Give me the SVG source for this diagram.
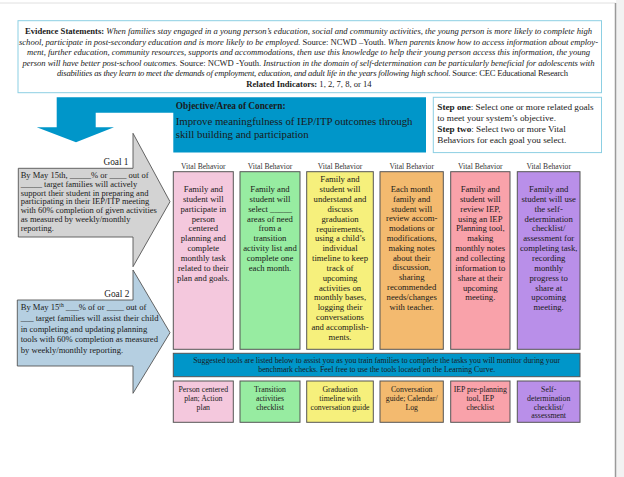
<svg xmlns="http://www.w3.org/2000/svg" width="624" height="477" viewBox="0 0 624 477">
<style>
text{font-family:"Liberation Serif","Times New Roman",serif;fill:#1a1a1a}
.ev{font-size:8.6px;text-anchor:middle}
.it{font-style:italic}
.b{font-weight:bold}
.col{stroke:#555;stroke-width:1}
.ct{font-size:8.7px;text-anchor:middle}
.vh{font-size:7.6px;text-anchor:middle;fill:#333}
.tt{font-size:7.8px;text-anchor:middle}
.gt{font-size:8.5px}
.g2{font-size:8.6px}
.gl{font-size:9.3px;text-anchor:end}
.arr{stroke:#555;stroke-width:0.9}
</style>
<rect x="0" y="0" width="624" height="477" fill="#ffffff"/>
<rect x="616" y="0" width="8" height="477" fill="#f2f2f2"/>
<line x1="0" y1="3" x2="615.5" y2="3" stroke="#e0e0e0" stroke-width="1"/>
<line x1="615.5" y1="3" x2="615.5" y2="477" stroke="#9a9a9a" stroke-width="1.5"/>

<g id="evidence">
<rect x="18" y="20.7" width="583.5" height="72" fill="#fff" stroke="#8ccfe3" stroke-width="1"/>
<text class="ev" y="34" x="308.5" textLength="567"><tspan class="b">Evidence Statements:</tspan><tspan class="it"> When families stay engaged in a young person’s education, social and community activities, the young person is more likely to complete high</tspan></text>
<text class="ev" y="44.6" x="308.5" textLength="579"><tspan class="it">school, participate in  post-secondary education and is more likely to be employed.</tspan> Source: NCWD –Youth. <tspan class="it">When parents know how to access information about employ-</tspan></text>
<text class="ev it" y="55.2" x="308.5" textLength="563">ment, further education, community resources, supports and accommodations, then use this knowledge to help their young person access this information, the young</text>
<text class="ev" y="65.8" x="308.5" textLength="572"><tspan class="it">person will have better post-school outcomes.</tspan> Source: NCWD -Youth. <tspan class="it">Instruction in the domain of self-determination can be particularly beneficial for adolescents with</tspan></text>
<text class="ev" y="76.4" x="312.5" textLength="511"><tspan class="it">disabilities as they learn to meet the demands of employment, education, and adult life in the years following high school.</tspan> Source: CEC Educational Research</text>
<text class="ev" y="87" x="309"><tspan class="b">Related Indicators:</tspan> 1, 2, 7, 8, or 14</text>
</g>

<g id="objective">
<polygon points="56.7,97.3 426,97.3 426,152.5 173.3,152.5 173.3,112.7 95.7,112.7 95.7,127.3 114,127.3 76,142.3 36.7,127.3 56.7,127.3" fill="#0096c9"/>
<text x="175.7" y="109" class="b" font-size="9.3">Objective/Area of Concern:</text>
<text x="175.7" y="124.8" font-size="10.8">Improve meaningfulness of IEP/ITP outcomes through</text>
<text x="175.7" y="138" font-size="10.8">skill building and participation</text>
</g>

<g id="steps">
<rect x="433.3" y="97.3" width="168.2" height="55.3" fill="#fff" stroke="#8ccfe3" stroke-width="1"/>
<text x="437.3" y="110" font-size="9.2"><tspan class="b">Step one</tspan>: Select one or more related goals</text>
<text x="437.3" y="121.1" font-size="9.2">to meet your system’s objective.</text>
<text x="437.3" y="132.2" font-size="9.2"><tspan class="b">Step two</tspan>: Select two or more Vital</text>
<text x="437.3" y="143.3" font-size="9.2">Behaviors for each goal you select.</text>
</g>

<g id="goal1">
<polygon class="arr" points="18.3,168.3 133,168.3 133,133.3 170,201.7 133,266.7 133,237 18.3,237" fill="#d3d3d3"/>
<text class="gl" x="128.5" y="164.9">Goal 1</text>
<text class="gt" x="20.7" y="178">By May 15th, _____% or ____ out of</text>
<text class="gt" x="20.7" y="186.8">_____ target families will actively</text>
<text class="gt" x="20.7" y="195.6">support their student in preparing and</text>
<text class="gt" x="20.7" y="204.4">participating in their IEP/ITP meeting</text>
<text class="gt" x="20.7" y="213.2">with 60% completion of given activities</text>
<text class="gt" x="20.7" y="222">as measured by weekly/monthly</text>
<text class="gt" x="20.7" y="230.8">reporting.</text>
</g>

<g id="goal2">
<polygon class="arr" points="17.3,300 133,300 133,270 170,332.7 133,393.3 133,366 17.3,366" fill="#b5cfe1"/>
<text class="gl" x="129.3" y="296.5">Goal 2</text>
<text class="g2" x="20.7" y="310.4">By May 15<tspan font-size="5.6" dy="-3.2">th</tspan><tspan dy="3.2"> ___% of or ____ out of</tspan></text>
<text class="g2" x="20.7" y="321">___ target families will assist their child</text>
<text class="g2" x="20.7" y="331.6">in completing and updating planning</text>
<text class="g2" x="20.7" y="342.2">tools with 60% completion as measured</text>
<text class="g2" x="20.7" y="352.8">by weekly/monthly reporting.</text>
</g>

<g id="vb1">
<text class="vh" x="203.3" y="169.3">Vital Behavior</text>
<rect class="col" x="173.3" y="171.7" width="60" height="177.6" fill="#f4c8dd"/>
<text class="ct" x="203.3" y="192"><tspan x="203.3">Family and</tspan><tspan x="203.3" dy="9.85">student will</tspan><tspan x="203.3" dy="9.85">participate in</tspan><tspan x="203.3" dy="9.85">person</tspan><tspan x="203.3" dy="9.85">centered</tspan><tspan x="203.3" dy="9.85">planning and</tspan><tspan x="203.3" dy="9.85">complete</tspan><tspan x="203.3" dy="9.85">monthly task</tspan><tspan x="203.3" dy="9.85">related to their</tspan><tspan x="203.3" dy="9.85">plan and goals.</tspan></text>
</g>
<g id="vb2">
<text class="vh" x="270" y="169.3">Vital Behavior</text>
<rect class="col" x="240" y="171.7" width="60" height="177.6" fill="#97eca1"/>
<text class="ct" x="270" y="192"><tspan x="270">Family and</tspan><tspan x="270" dy="9.85">student will</tspan><tspan x="270" dy="9.85">select _____</tspan><tspan x="270" dy="9.85">areas of need</tspan><tspan x="270" dy="9.85">from a</tspan><tspan x="270" dy="9.85">transition</tspan><tspan x="270" dy="9.85">activity list and</tspan><tspan x="270" dy="9.85">complete one</tspan><tspan x="270" dy="9.85">each month.</tspan></text>
</g>
<g id="vb3">
<text class="vh" x="340" y="169.3">Vital Behavior</text>
<rect class="col" x="306.7" y="171.7" width="66.6" height="177.6" fill="#f6f07c"/>
<text class="ct" x="340" y="182.3"><tspan x="340">Family and</tspan><tspan x="340" dy="9.84">student will</tspan><tspan x="340" dy="9.84">understand and</tspan><tspan x="340" dy="9.84">discuss</tspan><tspan x="340" dy="9.84">graduation</tspan><tspan x="340" dy="9.84">requirements,</tspan><tspan x="340" dy="9.84">using a child’s</tspan><tspan x="340" dy="9.84">individual</tspan><tspan x="340" dy="9.84">timeline to keep</tspan><tspan x="340" dy="9.84">track of</tspan><tspan x="340" dy="9.84">upcoming</tspan><tspan x="340" dy="9.84">activities on</tspan><tspan x="340" dy="9.84">monthly bases,</tspan><tspan x="340" dy="9.84">logging their</tspan><tspan x="340" dy="9.84">conversations</tspan><tspan x="340" dy="9.84">and accomplish-</tspan><tspan x="340" dy="9.84">ments.</tspan></text>
</g>
<g id="vb4">
<text class="vh" x="411.7" y="169.3">Vital Behavior</text>
<rect class="col" x="380" y="171.7" width="63.3" height="177.6" fill="#f3ba6f"/>
<text class="ct" x="411.7" y="192"><tspan x="411.7">Each month</tspan><tspan x="411.7" dy="9.8">family and</tspan><tspan x="411.7" dy="9.8">student will</tspan><tspan x="411.7" dy="9.8">review accom-</tspan><tspan x="411.7" dy="9.8">modations or</tspan><tspan x="411.7" dy="9.8">modifications,</tspan><tspan x="411.7" dy="9.8">making notes</tspan><tspan x="411.7" dy="9.8">about their</tspan><tspan x="411.7" dy="9.8">discussion,</tspan><tspan x="411.7" dy="9.8">sharing</tspan><tspan x="411.7" dy="9.8">recommended</tspan><tspan x="411.7" dy="9.8">needs/changes</tspan><tspan x="411.7" dy="9.8">with teacher.</tspan></text>
</g>
<g id="vb5">
<text class="vh" x="480.3" y="169.3">Vital Behavior</text>
<rect class="col" x="450.7" y="171.7" width="59.3" height="177.6" fill="#f9a2aa"/>
<text class="ct" x="480.3" y="192"><tspan x="480.3">Family and</tspan><tspan x="480.3" dy="9.85">student will</tspan><tspan x="480.3" dy="9.85">review IEP,</tspan><tspan x="480.3" dy="9.85">using an IEP</tspan><tspan x="480.3" dy="9.85">Planning tool,</tspan><tspan x="480.3" dy="9.85">making</tspan><tspan x="480.3" dy="9.85">monthly notes</tspan><tspan x="480.3" dy="9.85">and collecting</tspan><tspan x="480.3" dy="9.85">information to</tspan><tspan x="480.3" dy="9.85">share at their</tspan><tspan x="480.3" dy="9.85">upcoming</tspan><tspan x="480.3" dy="9.85">meeting.</tspan></text>
</g>
<g id="vb6">
<text class="vh" x="548.7" y="169.3">Vital Behavior</text>
<rect class="col" x="517.3" y="171.7" width="62.7" height="177.6" fill="#b98fe9"/>
<text class="ct" x="548.7" y="192"><tspan x="548.7">Family and</tspan><tspan x="548.7" dy="9.85">student will use</tspan><tspan x="548.7" dy="9.85">the self-</tspan><tspan x="548.7" dy="9.85">determination</tspan><tspan x="548.7" dy="9.85">checklist/</tspan><tspan x="548.7" dy="9.85">assessment for</tspan><tspan x="548.7" dy="9.85">completing task,</tspan><tspan x="548.7" dy="9.85">recording</tspan><tspan x="548.7" dy="9.85">monthly</tspan><tspan x="548.7" dy="9.85">progress to</tspan><tspan x="548.7" dy="9.85">share at</tspan><tspan x="548.7" dy="9.85">upcoming</tspan><tspan x="548.7" dy="9.85">meeting.</tspan></text>
</g>

<g id="tools-banner">
<rect class="col" x="173.3" y="353.3" width="406.7" height="23.4" fill="#0096c9"/>
<text class="tt" x="376.7" y="363.3" font-size="7.6">Suggested tools are listed below to assist you as you train families to complete the tasks you will monitor during your</text>
<text class="tt" x="376.7" y="372" font-size="7.6">benchmark checks. Feel free to use the tools located on the Learning Curve.</text>
</g>

<g id="tool1">
<rect class="col" x="173.3" y="381" width="60" height="41.3" fill="#f4c8dd"/>
<text class="tt" x="203.3" y="391.7"><tspan x="203.3">Person centered</tspan><tspan x="203.3" dy="8.9">plan; Action</tspan><tspan x="203.3" dy="8.9">plan</tspan></text>
</g>
<g id="tool2">
<rect class="col" x="240" y="381" width="60" height="41.3" fill="#97eca1"/>
<text class="tt" x="270" y="391.7"><tspan x="270">Transition</tspan><tspan x="270" dy="8.9">activities</tspan><tspan x="270" dy="8.9">checklist</tspan></text>
</g>
<g id="tool3">
<rect class="col" x="306.7" y="381" width="66.6" height="41.3" fill="#f6f07c"/>
<text class="tt" x="340" y="391.7"><tspan x="340">Graduation</tspan><tspan x="340" dy="8.9">timeline with</tspan><tspan x="340" dy="8.9">conversation guide</tspan></text>
</g>
<g id="tool4">
<rect class="col" x="380" y="381" width="63.3" height="41.3" fill="#f3ba6f"/>
<text class="tt" x="411.7" y="391.7"><tspan x="411.7">Conversation</tspan><tspan x="411.7" dy="8.9">guide; Calendar/</tspan><tspan x="411.7" dy="8.9">Log</tspan></text>
</g>
<g id="tool5">
<rect class="col" x="450.7" y="381" width="59.3" height="41.3" fill="#f9a2aa"/>
<text class="tt" x="480.3" y="391.7"><tspan x="480.3">IEP pre-planning</tspan><tspan x="480.3" dy="8.9">tool, IEP</tspan><tspan x="480.3" dy="8.9">checklist</tspan></text>
</g>
<g id="tool6">
<rect class="col" x="517.3" y="381" width="62.7" height="41.3" fill="#b98fe9"/>
<text class="tt" x="548.7" y="391.7"><tspan x="548.7">Self-</tspan><tspan x="548.7" dy="8.9">determination</tspan><tspan x="548.7" dy="8.9">checklist/</tspan><tspan x="548.7" dy="8.9">assessment</tspan></text>
</g>
<g id="connectors"></g>
</svg>
